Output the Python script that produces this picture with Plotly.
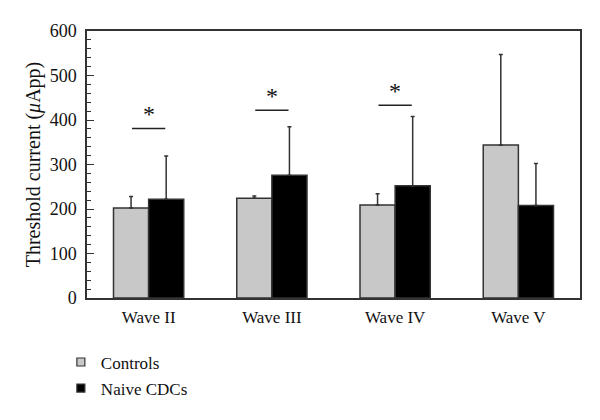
import plotly.graph_objects as go

categories = ["Wave II", "Wave III", "Wave IV", "Wave V"]
controls = [202, 224, 209, 344]
controls_err = [26, 5, 25, 203]
naive = [222, 276, 252, 208]
naive_err = [97, 109, 156, 94]
sig_index = [0, 1, 2]
sig_level = [381, 422, 433]

FONT = "Liberation Serif"
GRAY = "#c8c8c8"

fig = go.Figure()
fig.add_trace(go.Bar(
    name="Controls", x=categories, y=controls, showlegend=False,
    marker=dict(color=GRAY, line=dict(color="#333333", width=1.5)),
    error_y=dict(type="data", array=controls_err, arrayminus=[0]*4, symmetric=False,
                 color="#333333", thickness=1.5, width=2),
))
fig.add_trace(go.Bar(
    name="Naive CDCs", x=categories, y=naive, showlegend=False,
    marker=dict(color="#000000", line=dict(color="#333333", width=1.5)),
    error_y=dict(type="data", array=naive_err, arrayminus=[0]*4, symmetric=False,
                 color="#333333", thickness=1.5, width=2),
))
# legend entries with small square symbols
fig.add_trace(go.Scatter(name="Controls", x=[None], y=[None], mode="markers",
                         legendgroup="a",
                         marker=dict(symbol="square", size=8, color=GRAY,
                                     line=dict(color="#333333", width=1.2))))
fig.add_trace(go.Scatter(name="Naive CDCs", x=[None], y=[None], mode="markers",
                         legendgroup="b",
                         marker=dict(symbol="square", size=8, color="#000000",
                                     line=dict(color="#333333", width=1.2))))

for i, lvl in zip(sig_index, sig_level):
    fig.add_shape(type="line", xref="x", yref="y", x0=i - 0.135, x1=i + 0.135,
                  y0=lvl, y1=lvl, line=dict(color="#222222", width=1.5))
    fig.add_annotation(x=i, y=lvl, xref="x", yref="y", text="*", showarrow=False,
                       yanchor="bottom", yshift=-1, font=dict(family=FONT, size=24, color="#111111"))

fig.update_layout(
    width=592, height=412,
    margin=dict(l=79, r=20, t=23, b=122),
    paper_bgcolor="white", plot_bgcolor="white",
    barmode="group", bargap=0.43, bargroupgap=0,
    font=dict(family=FONT, size=17, color="#111111"),
    showlegend=True,
    legend=dict(x=-0.053, y=-0.29, xanchor="left", yanchor="middle",
                orientation="v", font=dict(family=FONT, size=17), itemwidth=30,
                tracegroupgap=1, bgcolor="rgba(0,0,0,0)"),
    xaxis=dict(showline=True, linecolor="#333333", linewidth=1.5, mirror=True,
               ticks="", showgrid=False, automargin=False, ticklabelstandoff=3),
    yaxis=dict(range=[0, 600], dtick=100, showline=True, linecolor="#333333", linewidth=1.5,
               mirror=True, ticks="inside", ticklen=7, tickcolor="#333333", showgrid=False,
               zeroline=False, automargin=False, ticklabelstandoff=5,
               tickfont=dict(size=18),
               minor=dict(dtick=20, ticks="inside", ticklen=4, tickcolor="#333333"),
               title=dict(text="Threshold current (<i>μ</i>App)", standoff=4)),
)

fig.write_html("out.html")
